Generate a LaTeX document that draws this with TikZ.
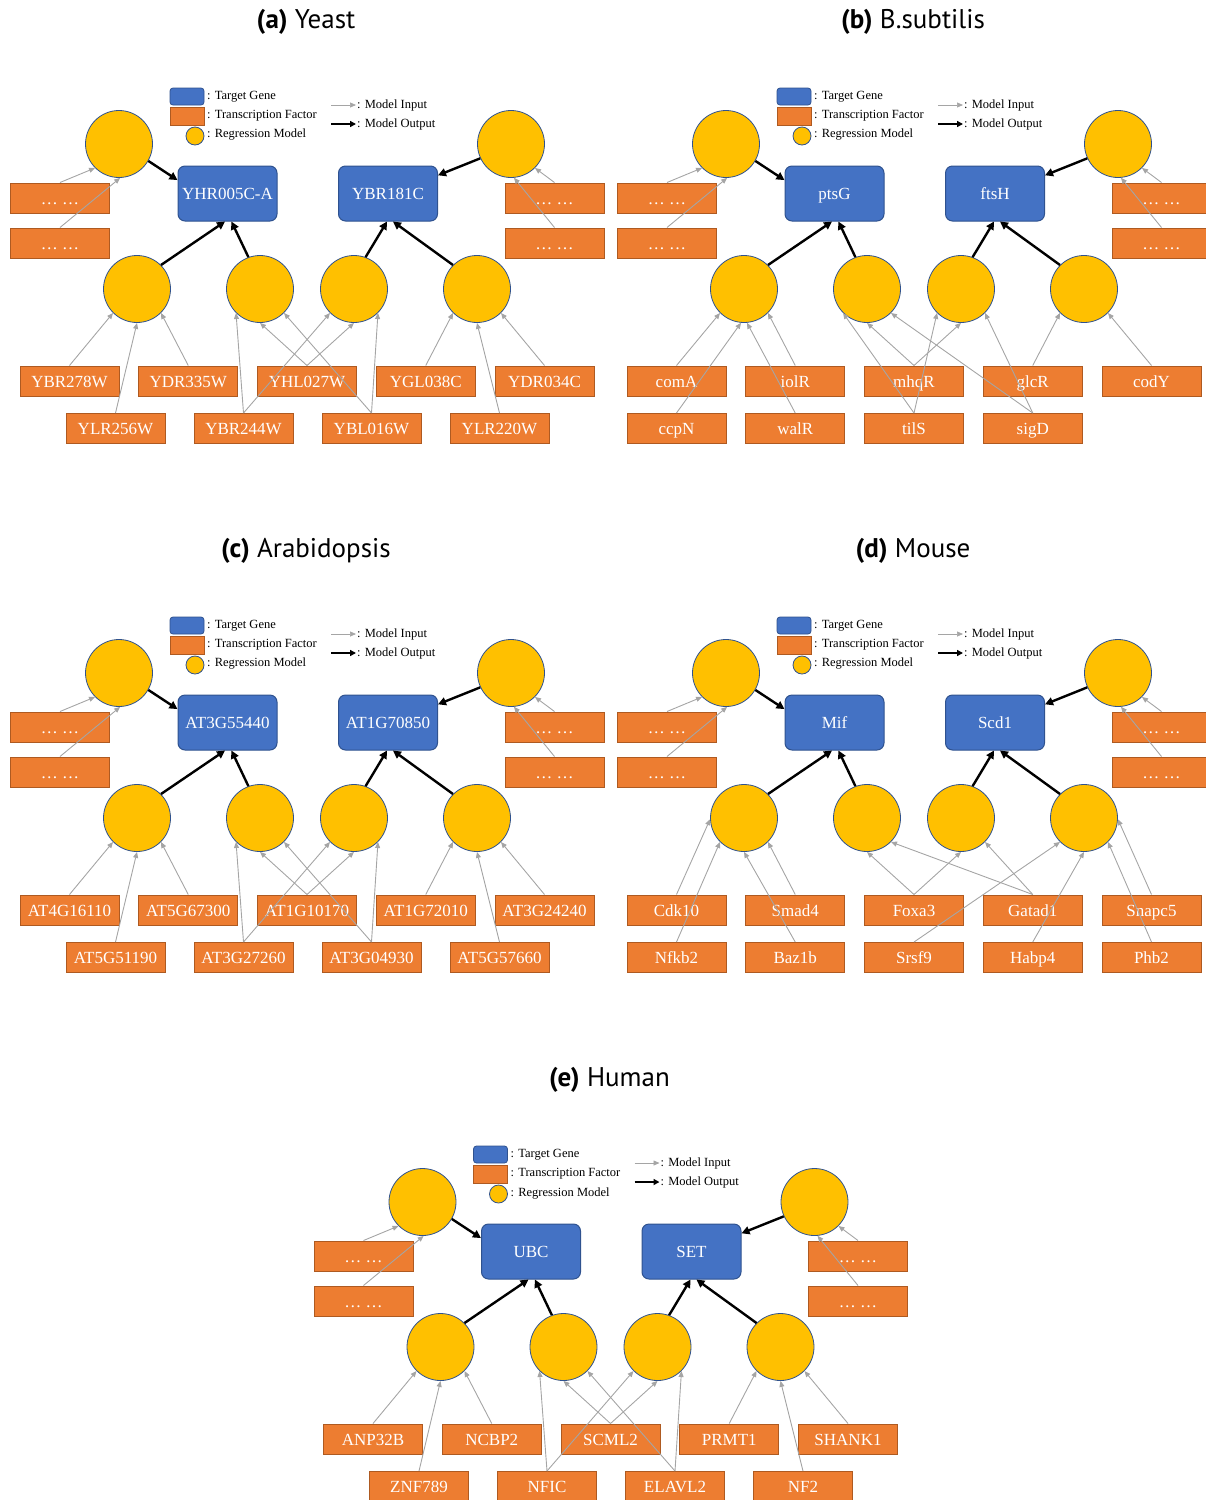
\documentclass[tikz,border=0pt]{standalone}
\usepackage{fontspec}
\setmainfont{Liberation Serif}
\newfontfamily\capfont{PT Sans}
\usetikzlibrary{arrows.meta}

\definecolor{geneBlue}{HTML}{4472C4}
\definecolor{geneBorder}{HTML}{2F528F}
\definecolor{tfOrange}{HTML}{ED7D31}
\definecolor{tfBorder}{HTML}{AE5A21}
\definecolor{modelYellow}{HTML}{FFC000}
\definecolor{inputGrey}{HTML}{A5A5A5}

\tikzset{
  target/.style={rectangle, rounded corners=7pt, fill=geneBlue, draw=geneBorder, line width=1pt,
    minimum width=99pt, minimum height=55pt, inner sep=0pt, text height=13.5pt, text depth=1.5pt,
    text=white, font=\fontsize{17}{20}\selectfont},
  tf/.style={rectangle, fill=tfOrange, draw=tfBorder, line width=1pt,
    minimum width=99pt, minimum height=30pt, inner sep=0pt, text height=13.5pt, text depth=1.5pt,
    text=white, font=\fontsize{17}{20}\selectfont},
  model/.style={circle, fill=modelYellow, draw=geneBorder, line width=0.8pt, minimum size=67pt, inner sep=0pt},
  inarrow/.style={draw=inputGrey, line width=0.9pt, -{Triangle[length=6pt,width=5pt]}},
  outarrow/.style={draw=black, line width=2.4pt, -{Triangle[length=8pt,width=8pt]}},
  legtext/.style={anchor=west, inner sep=0pt, font=\fontsize{12.5}{14}\selectfont},
  paneltitle/.style={font=\capfont\fontsize{27}{30}\selectfont}
}

% Legend, target genes, regression models and output arrows of one panel
% #1, #2: the two target genes
\newcommand{\treeSkeleton}[2]{
  % legend
  \node[rectangle, rounded corners=3pt, fill=geneBlue, draw=geneBorder, line width=0.8pt,
    minimum width=34pt, minimum height=17pt] (keyGene) at (187,96.5) {};
  \node[rectangle, fill=tfOrange, draw=tfBorder, line width=0.8pt,
    minimum width=34pt, minimum height=18pt] (keyTf) at (187,116) {};
  \node[model, minimum size=18pt] (keyModel) at (195,136) {};
  \node[legtext] (keyGeneText) at (207,97) {: Target Gene};
  \node[legtext] (keyTfText) at (207,116) {: Transcription Factor};
  \node[legtext] (keyModelText) at (207,135) {: Regression Model};
  \coordinate (keyInA) at (331,105);
  \coordinate (keyInB) at (356,105);
  \coordinate (keyOutA) at (331,124);
  \coordinate (keyOutB) at (356,124);
  \draw[inarrow, line width=0.7pt] (keyInA) -- (keyInB);
  \draw[outarrow, line width=1.6pt, -{Triangle[length=6pt,width=6pt]}] (keyOutA) -- (keyOutB);
  \node[legtext] (keyInText) at (357,105) {: Model Input};
  \node[legtext] (keyOutText) at (357,124) {: Model Output};

  % nodes
  \node[model] (tl) at (119,144) {};
  \node[model] (tr) at (511,144) {};
  \node[target] (t1) at (227.5,193.5) {#1};
  \node[target] (t2) at (388,193.5) {#2};
  \node[tf] (dl1) at (60,198) {… …};
  \node[tf] (dl2) at (60,243) {… …};
  \node[tf] (dr1) at (554.5,198) {… …};
  \node[tf] (dr2) at (554.5,243) {… …};
  \foreach \x [count=\i] in {137,260,354,477}
    \node[model] (m\i) at (\x,289) {};

  % inputs of the outer models
  \draw[inarrow] (dl1.north) -- (tl.225);
  \draw[inarrow] (dl2.north) -- (tl.-88);
  \draw[inarrow] (dr1.north) -- (tr.315);
  \draw[inarrow] (dr2.north) -- (tr.-85);

  % outputs
  \draw[outarrow] (tl.-30) -- (t1.165);
  \draw[outarrow] (tr.205) -- (t2.20);
  \draw[outarrow] (m1.45) -- (t1.-95);
  \draw[outarrow] (m2.110) -- (t1.-82);
  \draw[outarrow] (m3.70) -- (t2.-92);
  \draw[outarrow] (m4.135) -- (t2.-80);
}

% Five factors in the upper row, four staggered ones below
\newcommand{\staggeredRows}[2]{
  \foreach \gene [count=\i] in {#1}
    \node[tf] (r\i) at ({69.5+118.75*(\i-1)},381) {\gene};
  \foreach \gene [count=\i] in {#2}
    \node[tf] (s\i) at ({115.5+128*(\i-1)},428.5) {\gene};
}

% Factors stacked in columns
\newcommand{\columnRows}[2]{
  \foreach \gene [count=\i] in {#1}
    \node[tf] (r\i) at ({69.5+118.75*(\i-1)},381) {\gene};
  \foreach \gene [count=\i] in {#2}
    \node[tf] (s\i) at ({69.5+118.75*(\i-1)},428.5) {\gene};
}

% Wiring shared by Yeast, Arabidopsis and Human
\newcommand{\crossWiring}{
  \draw[inarrow] (r1.north) -- (m1.225);
  \draw[inarrow] (s1.north) -- (m1.south);
  \draw[inarrow] (r2.north) -- (m1.315);
  \draw[inarrow] (s2.north) -- (m2.225);
  \draw[inarrow] (s2.north) -- (m3.225);
  \draw[inarrow] (r3.north) -- (m2.south);
  \draw[inarrow] (r3.north) -- (m3.south);
  \draw[inarrow] (s3.north) -- (m2.315);
  \draw[inarrow] (s3.north) -- (m3.315);
  \draw[inarrow] (r4.north) -- (m4.225);
  \draw[inarrow] (s4.north) -- (m4.south);
  \draw[inarrow] (r5.north) -- (m4.315);
}

\begin{document}
\begin{tikzpicture}[x=1pt, y=-1pt]
  \useasboundingbox (0,0) rectangle (1206,1500);

  % (a) Yeast
  \begin{scope}[name prefix=a-]
    \node[paneltitle] (title) at (306,22) {\textbf{(a)} Yeast};
    \treeSkeleton{YHR005C-A}{YBR181C}
    \staggeredRows{YBR278W,YDR335W,YHL027W,YGL038C,YDR034C}{YLR256W,YBR244W,YBL016W,YLR220W}
    \crossWiring
  \end{scope}

  % (b) B.subtilis
  \begin{scope}[shift={(607,0)}, name prefix=b-]
    \node[paneltitle] (title) at (306,22) {\textbf{(b)} B.subtilis};
    \treeSkeleton{ptsG}{ftsH}
    \columnRows{comA,iolR,mhqR,glcR,codY}{ccpN,walR,tilS,sigD}
    \draw[inarrow] (r1.north) -- (m1.225);
    \draw[inarrow] (s1.north) -- (m1.-95);
    \draw[inarrow] (s2.north) -- (m1.-85);
    \draw[inarrow] (r2.north) -- (m1.315);
    \draw[inarrow] (r3.north) -- (m2.south);
    \draw[inarrow] (r3.north) -- (m3.south);
    \draw[inarrow] (s3.north) -- (m2.225);
    \draw[inarrow] (s3.north) -- (m3.225);
    \draw[inarrow] (s4.north) -- (m2.315);
    \draw[inarrow] (s4.north) -- (m3.315);
    \draw[inarrow] (r4.north) -- (m4.225);
    \draw[inarrow] (r5.north) -- (m4.315);
  \end{scope}

  % (c) Arabidopsis
  \begin{scope}[shift={(0,529)}, name prefix=c-]
    \node[paneltitle] (title) at (306,22) {\textbf{(c)} Arabidopsis};
    \treeSkeleton{AT3G55440}{AT1G70850}
    \staggeredRows{AT4G16110,AT5G67300,AT1G10170,AT1G72010,AT3G24240}{AT5G51190,AT3G27260,AT3G04930,AT5G57660}
    \crossWiring
  \end{scope}

  % (d) Mouse
  \begin{scope}[shift={(607,529)}, name prefix=d-]
    \node[paneltitle] (title) at (306,22) {\textbf{(d)} Mouse};
    \treeSkeleton{Mif}{Scd1}
    \columnRows{Cdk10,Smad4,Foxa3,Gatad1,Snapc5}{Nfkb2,Baz1b,Srsf9,Habp4,Phb2}
    \draw[inarrow] (r1.north) -- (m1.182);
    \draw[inarrow] (s1.north) -- (m1.225);
    \draw[inarrow] (s2.north) -- (m1.south);
    \draw[inarrow] (r2.north) -- (m1.315);
    \draw[inarrow] (r3.north) -- (m2.south);
    \draw[inarrow] (r3.north) -- (m3.south);
    \draw[inarrow] (r4.north) -- (m2.315);
    \draw[inarrow] (r4.north) -- (m3.315);
    \draw[inarrow] (s3.north) -- (m4.225);
    \draw[inarrow] (s4.north) -- (m4.south);
    \draw[inarrow] (s5.north) -- (m4.315);
    \draw[inarrow] (r5.north) -- (m4.-2);
  \end{scope}

  % (e) Human
  \begin{scope}[shift={(303.5,1058)}, name prefix=e-]
    \node[paneltitle] (title) at (306,22) {\textbf{(e)} Human};
    \treeSkeleton{UBC}{SET}
    \staggeredRows{ANP32B,NCBP2,SCML2,PRMT1,SHANK1}{ZNF789,NFIC,ELAVL2,NF2}
    \crossWiring
  \end{scope}
\end{tikzpicture}
\end{document}
